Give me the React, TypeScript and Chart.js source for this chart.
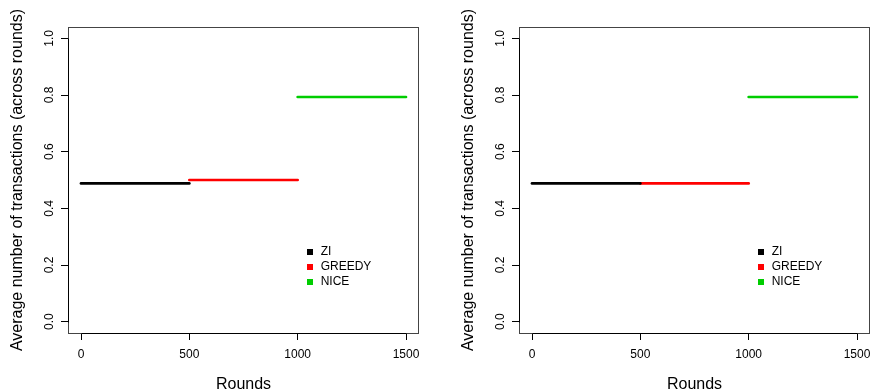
import React, { useEffect, useRef } from "react";
import { Chart, registerables } from "chart.js";

Chart.register(...registerables);

const FONT = "'Liberation Sans', Arial, Helvetica, sans-serif";

// ---- data ----
const seriesNames = ["ZI", "GREEDY", "NICE"];
const seriesColors = ["#000000", "#FF0000", "#00CD00"];
const segmentStarts = [0, 500, 1000];
const segmentEnds = [500, 1000, 1500];
const leftValues = [0.488, 0.5, 0.793];
const rightValues = [0.488, 0.488, 0.793];
const xTicks = [0, 500, 1000, 1500];
const yTicks = [0, 0.2, 0.4, 0.6, 0.8, 1.0];
const yTickLabels = ["0.0", "0.2", "0.4", "0.6", "0.8", "1.0"];
const xTitle = "Rounds";
const yTitle = "Average number of transactions (across rounds)";

const rStylePlugin = {
  id: "rStyle",
  afterDraw(chart: any) {
    const ctx = chart.ctx as CanvasRenderingContext2D;
    const { left, right, top, bottom } = chart.chartArea;
    const xs = chart.scales.x;
    const ys = chart.scales.y;
    ctx.save();
    // box
    ctx.strokeStyle = "#444";
    ctx.lineWidth = 1;
    ctx.strokeRect(Math.round(left) + 0.5, Math.round(top) + 0.5, Math.round(right - left) - 1, Math.round(bottom - top));
    // axis lines
    ctx.strokeStyle = "#000";
    ctx.beginPath();
    ctx.moveTo(Math.round(xs.getPixelForValue(xTicks[0])) + 0.5, Math.round(bottom) + 0.5);
    ctx.lineTo(Math.round(xs.getPixelForValue(xTicks[xTicks.length - 1])) + 0.5, Math.round(bottom) + 0.5);
    ctx.moveTo(Math.round(left) + 0.5, Math.round(ys.getPixelForValue(yTicks[0])) + 0.5);
    ctx.lineTo(Math.round(left) + 0.5, Math.round(ys.getPixelForValue(yTicks[yTicks.length - 1])) + 0.5);
    ctx.stroke();
    // rotated y tick labels
    ctx.fillStyle = "#000";
    ctx.font = `12px ${FONT}`;
    ctx.textAlign = "center";
    ctx.textBaseline = "alphabetic";
    yTicks.forEach((v, i) => {
      const py = ys.getPixelForValue(v);
      ctx.save();
      ctx.translate(left - 15.5, py);
      ctx.rotate(-Math.PI / 2);
      ctx.fillText(yTickLabels[i], 0, 0);
      ctx.restore();
    });
    // legend
    const ax = xs.getPixelForValue(1000);
    const ay = ys.getPixelForValue(0.3);
    ctx.textAlign = "left";
    ctx.textBaseline = "middle";
    chart.data.datasets.forEach((ds: any, i: number) => {
      const ry = ay + 15 + 15 * i;
      ctx.fillStyle = ds.borderColor;
      ctx.fillRect(Math.round(ax + 9), Math.round(ry - 3), 6, 6);
      ctx.fillStyle = "#000";
      ctx.fillText(ds.label, ax + 23, ry);
    });
    ctx.restore();
  },
};

function Panel({ values, offset }: { values: number[]; offset: number }) {
  const ref = useRef<HTMLCanvasElement | null>(null);
  useEffect(() => {
    if (!ref.current) return;
    const datasets = seriesNames.map((name, i) => ({
      label: name,
      data: [
        { x: segmentStarts[i], y: values[i] },
        { x: segmentEnds[i], y: values[i] },
      ],
      borderColor: seriesColors[i],
      backgroundColor: seriesColors[i],
      borderWidth: 2.7,
      borderCapStyle: "round" as const,
      pointRadius: 0,
      fill: false,
      tension: 0,
    }));
    const chart = new Chart(ref.current, {
      type: "line",
      data: { datasets },
      options: {
        animation: false,
        responsive: false,
        devicePixelRatio: 1,
        layout: { padding: { left: 0, right: 1, top: 27, bottom: 0 } },
        plugins: { legend: { display: false }, tooltip: { enabled: false } },
        scales: {
          x: {
            type: "linear",
            min: -60,
            max: 1560,
            afterBuildTicks: (s: any) => {
              s.ticks = xTicks.map((v) => ({ value: v }));
            },
            afterFit: (s: any) => {
              s.height = 59;
              s.paddingLeft = 0;
              s.paddingRight = 0;
            },
            grid: { drawOnChartArea: false, drawTicks: true, tickLength: 7, color: "#000", lineWidth: 1 },
            border: { display: false },
            ticks: {
              autoSkip: false,
              maxRotation: 0,
              minRotation: 0,
              padding: 7,
              color: "#000",
              font: { family: FONT, size: 12 },
              callback: (v: any) => String(v),
            },
            title: {
              display: true,
              text: xTitle,
              color: "#000",
              font: { family: FONT, size: 16, lineHeight: 1 },
              padding: { top: 0, bottom: -0.5 },
            },
          },
          y: {
            type: "linear",
            min: -0.04,
            max: 1.04,
            afterBuildTicks: (s: any) => {
              s.ticks = yTicks.map((v) => ({ value: v }));
            },
            afterFit: (s: any) => {
              s.width = 68;
              s.paddingTop = 0;
              s.paddingBottom = 0;
            },
            grid: { drawOnChartArea: false, drawTicks: true, tickLength: 7, color: "#000", lineWidth: 1 },
            border: { display: false },
            ticks: { display: false },
            title: {
              display: true,
              text: yTitle,
              color: "#000",
              font: { family: FONT, size: 16, lineHeight: 1 },
              padding: { top: 10, bottom: 0 },
            },
          },
        },
      },
      plugins: [rStylePlugin],
    });
    return () => chart.destroy();
  }, [values]);
  return (
    <canvas
      ref={ref}
      width={420}
      height={392}
      style={{ position: "absolute", left: offset, top: 0, width: 420, height: 392 }}
    />
  );
}

export default function App() {
  return (
    <div style={{ position: "fixed", left: 0, top: 0, width: 871, height: 392, background: "#fff", overflow: "hidden" }}>
      <Panel values={leftValues} offset={0} />
      <Panel values={rightValues} offset={451} />
    </div>
  );
}
